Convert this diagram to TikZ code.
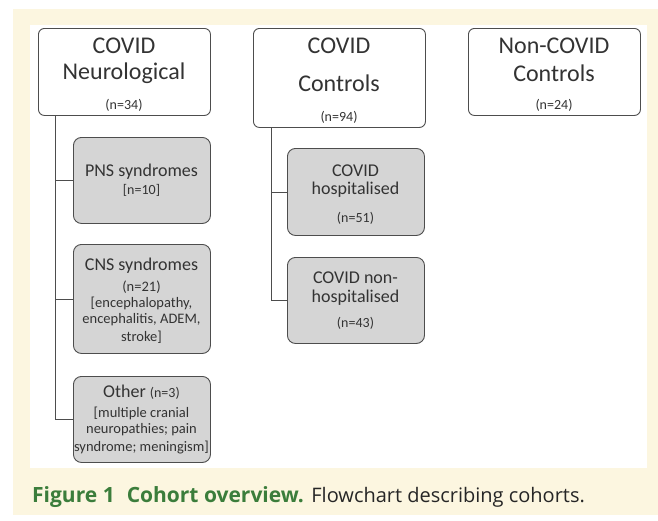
\documentclass[tikz,border=0pt]{standalone}
\usepackage{fontspec}
\setmainfont{Carlito}
\newfontfamily\capfont{Open Sans}
\definecolor{cream}{HTML}{FCF6E0}
\definecolor{boxgray}{HTML}{D5D5D5}
\definecolor{edgegray}{HTML}{4D4D4D}
\definecolor{capgreen}{HTML}{3B7D3B}
\definecolor{txt}{HTML}{333333}
\tikzset{
  whitebox/.style={draw=edgegray, line width=0.9pt, fill=white, rounded corners=6pt, inner sep=0pt, anchor=north west},
  graybox/.style={draw=edgegray, line width=0.9pt, fill=boxgray, rounded corners=8pt, inner sep=0pt, anchor=north west},
  conn/.style={draw=edgegray, line width=0.9pt},
  big/.style={font=\fontsize{24}{27}\selectfont, text=txt, inner sep=0pt},
  mid/.style={font=\fontsize{18}{21}\selectfont, text=txt, inner sep=0pt},
  sml/.style={font=\fontsize{14.5}{17}\selectfont, text=txt, inner sep=0pt},
  tiny/.style={font=\fontsize{14}{16}\selectfont, text=txt, inner sep=0pt}
}
\begin{document}
\begin{tikzpicture}[x=1pt,y=-1pt]
\useasboundingbox (0,0) rectangle (658,520);
\fill[white] (0,0) rectangle (658,520);
\fill[cream] (13,9) rectangle (658,515);
\fill[white] (30,25) rectangle (647,468);

% top boxes
\node[whitebox, minimum width=172pt, minimum height=87pt] (neuro) at (38,28) {};
\node[big] (neuroA) at (124,46) {COVID};
\node[big] (neuroB) at (124,73) {Neurological};
\node[tiny] (neuroC) at (124,105) {(n=34)};

\node[whitebox, minimum width=172pt, minimum height=99pt] (ctrl) at (253,28) {};
\node[big] (ctrlA) at (339,46) {COVID};
\node[big] (ctrlB) at (339,83) {Controls};
\node[tiny] (ctrlC) at (339,117) {(n=94)};

\node[whitebox, minimum width=172pt, minimum height=87pt] (non) at (468,28) {};
\node[big] (nonA) at (554,46) {Non-COVID};
\node[big] (nonB) at (554,73) {Controls};
\node[tiny] (nonC) at (554,105) {(n=24)};

% left gray boxes
\node[graybox, minimum width=137pt, minimum height=86pt] (pns) at (73,137) {};
\node[mid] at (141.5,172) {PNS syndromes};
\node[tiny] at (141.5,190) {[n=10]};

\node[graybox, minimum width=137pt, minimum height=109pt] (cns) at (73,244) {};
\node[mid] at (141.5,266) {CNS syndromes};
\node[sml] at (141.5,287) {(n=21)};
\node[sml] at (141.5,303) {[encephalopathy,};
\node[sml] at (141.5,320) {encephalitis, ADEM,};
\node[sml] at (141.5,337) {stroke]};

\node[graybox, minimum width=137pt, minimum height=86pt] (oth) at (73,376) {};
\node[mid] at (141.5,392) {Other {\fontsize{14}{16}\selectfont(n=3)}};
\node[sml] at (141.5,413) {[multiple cranial};
\node[sml] at (141.5,430) {neuropathies; pain};
\node[sml] at (141.5,447) {syndrome; meningism]};

% right gray boxes
\node[graybox, minimum width=137pt, minimum height=87pt] (hosp) at (287,148) {};
\node[mid] at (355.5,171) {COVID};
\node[mid] at (355.5,190) {hospitalised};
\node[tiny] at (355.5,218) {(n=51)};

\node[graybox, minimum width=137pt, minimum height=86pt] (nonhosp) at (287,257) {};
\node[mid] at (355.5,278) {COVID non-};
\node[mid] at (355.5,298) {hospitalised};
\node[tiny] at (355.5,323) {(n=43)};

% connectors
\coordinate (nt) at (55,115);
\coordinate (ct) at (271,127);
\draw[conn] (nt) |- (oth.west);
\draw[conn] (nt |- pns.west) -- (pns.west);
\draw[conn] (nt |- cns.west) -- (cns.west);
\draw[conn] (ct) |- (nonhosp.west);
\draw[conn] (ct |- hosp.west) -- (hosp.west);

% caption
\node[anchor=base west, inner sep=0pt, text=capgreen, font=\capfont\bfseries\fontsize{21}{24}\selectfont] (capA) at (32,502)
  {Figure 1\hspace{12pt}Cohort overview.};
\node[anchor=base west, inner sep=0pt, text=black!85, font=\capfont\fontsize{20}{24}\selectfont] (capB) at ([xshift=7pt]capA.base east)
  {Flowchart describing cohorts.};
\end{tikzpicture}
\end{document}
